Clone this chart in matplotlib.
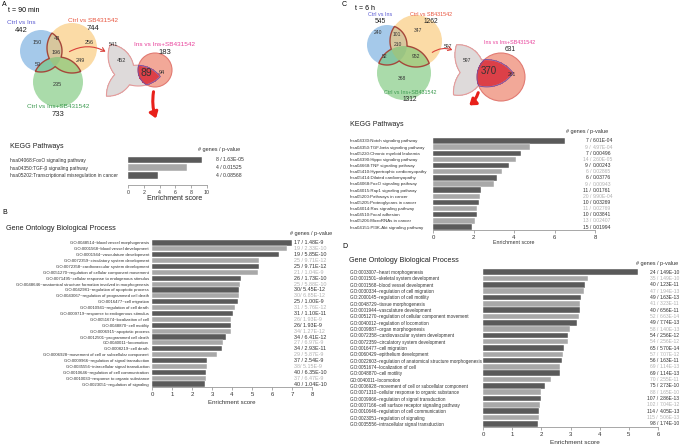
import numpy as np
import matplotlib
matplotlib.use('Agg')
import matplotlib.pyplot as plt
from matplotlib.patches import Circle, FancyArrowPatch
from matplotlib import transforms

plt.rcParams['font.family'] = ['Liberation Sans', 'DejaVu Sans']

W, H = 685, 447
DARK = '#5a5a5a'
LIGHT = '#a8a8a8'
TXT_DARK = '#333333'
TXT_LIGHT = '#b0b0b0'
C_BLUE, C_ORANGE, C_GREEN = '#6aa6dc', '#f9c46b', '#72c472'
T_BLUE, T_RED, T_GREEN, T_PINK = '#5a5ad2', '#e8553f', '#3c9a50', '#e8409a'

# ---------------- data ----------------
a_kegg_terms = ['hsa04068:FoxO signaling pathway',
                'hsa04350:TGF-\u03b2 signaling pathway',
                'hsa05202:Transcriptional misregulation in cancer']
a_kegg_scores = [9.37, 7.45, 3.75]
a_kegg_info = ['8 / 1.63E-05', '4 / 0.01525', '4 / 0.08568']

b_go_terms = ['GO:0048514~blood vessel morphogenesis',
              'GO:0001568~blood vessel development',
              'GO:0001944~vasculature development',
              'GO:0072359~circulatory system development',
              'GO:0072358~cardiovascular system development',
              'GO:0051270~regulation of cellular component movement',
              'GO:0071495~cellular response to endogenous stimulus',
              'GO:0048646~anatomical structure formation involved in morphogenesis',
              'GO:0042981~regulation of apoptotic process',
              'GO:0043067~regulation of programmed cell death',
              'GO:0016477~cell migration',
              'GO:0010941~regulation of cell death',
              'GO:0009719~response to endogenous stimulus',
              'GO:0051674~localization of cell',
              'GO:0048870~cell motility',
              'GO:0006915~apoptotic process',
              'GO:0012501~programmed cell death',
              'GO:0040011~locomotion',
              'GO:0008219~cell death',
              'GO:0006928~movement of cell or subcellular component',
              'GO:0009966~regulation of signal transduction',
              'GO:0035556~intracellular signal transduction',
              'GO:0010646~regulation of cell communication',
              'GO:0010033~response to organic substance',
              'GO:0023051~regulation of signaling']
b_go_scores = [7.0, 6.73, 6.37, 5.37, 5.37, 5.3, 4.45, 4.4, 4.35, 4.35, 4.28, 4.17,
               4.07, 3.95, 3.95, 3.93, 3.72, 3.57, 3.48, 3.27, 2.75, 2.75, 2.68, 2.68, 2.65]
b_go_info = ['17 / 1.48E-9', '19 / 2.33E-10', '19 / 5.85E-10', '25 / 9.71E-12',
             '25 / 9.71E-12', '21 / 1.04E-9', '26 / 1.73E-10', '25 / 5.88E-10',
             '30/ 5.45E-12', '30/ 6.85E-12', '25 / 1.00E-9', '31 / 5.76E-12',
             '31 / 1.10E-11', '26/ 1.93E-9', '26/ 1.93E-9', '34/ 1.27E-12',
             '34 / 6.41E-12', '27 / 6.97E-9', '34 / 2.93E-11', '29 / 5.87E-9',
             '37 / 2.54E-9', '38/ 5.15E-9', '40 / 6.35E-10', '37 / 6.47E-9',
             '40 / 1.04E-10']

c_kegg_terms = ['hsa04330:Notch signaling pathway',
                'hsa04350:TGF-beta signaling pathway',
                'hsa05220:Chronic myeloid leukemia',
                'hsa04390:Hippo signaling pathway',
                'hsa04668:TNF signaling pathway',
                'hsa05410:Hypertrophic cardiomyopathy',
                'hsa05414:Dilated cardiomyopathy',
                'hsa04068:FoxO signaling pathway',
                'hsa04015:Rap1 signaling pathway',
                'hsa05200:Pathways in cancer',
                'hsa05205:Proteoglycans in cancer',
                'hsa04014:Ras signaling pathway',
                'hsa04510:Focal adhesion',
                'hsa05206:MicroRNAs in cancer',
                'hsa04151:PI3K-Akt signaling pathway']
c_kegg_scores = [6.5, 4.78, 4.33, 4.12, 3.75, 3.43, 3.18, 3.0, 2.35, 2.3, 2.25, 2.18,
                 2.18, 2.05, 1.95]
c_kegg_genes = ['7', '9', '7', '14', '9', '6', '6', '9', '11', '20', '10', '11', '10', '13', '15']
c_kegg_pvals = ['6.01E-04', '4.97E-04', '0.00496', '2.60E-05', '0.00243', '0.02865',
                '0.03776', '0.00943', '0.01761', '9.90E-04', '0.03269', '0.02769',
                '0.03841', '0.02407', '0.01994']

d_go_terms = ['GO:0003007~heart morphogenesis',
              'GO:0001501~skeletal system development',
              'GO:0001568~blood vessel development',
              'GO:0030334~regulation of cell migration',
              'GO:2000145~regulation of cell motility',
              'GO:0048729~tissue morphogenesis',
              'GO:0001944~vasculature development',
              'GO:0051270~regulation of cellular component movement',
              'GO:0040012~regulation of locomotion',
              'GO:0009887~organ morphogenesis',
              'GO:0072358~cardiovascular system development',
              'GO:0072359~circulatory system development',
              'GO:0016477~cell migration',
              'GO:0060429~epithelium development',
              'GO:0022603~regulation of anatomical structure morphogenesis',
              'GO:0051674~localization of cell',
              'GO:0048870~cell motility',
              'GO:0040011~locomotion',
              'GO:0006928~movement of cell or subcellular component',
              'GO:0071310~cellular response to organic substance',
              'GO:0009966~regulation of signal transduction',
              'GO:0007166~cell surface receptor signaling pathway',
              'GO:0010646~regulation of cell communication',
              'GO:0023051~regulation of signaling',
              'GO:0035556~intracellular signal transduction']
d_go_scores = [5.3, 3.6, 3.5, 3.46, 3.37, 3.34, 3.32, 3.28, 3.22, 2.98, 2.9, 2.9, 2.79,
               2.73, 2.7, 2.64, 2.63, 2.33, 2.13, 2.0, 1.99, 1.95, 1.92, 1.92, 1.88]
d_go_genes = ['24', '35', '40', '47', '49', '41', '40', '52', '49', '58', '54', '54', '65',
              '57', '56', '69', '69', '70', '75', '88', '107', '102', '114', '115', '98']
d_go_pvals = ['1.49E-10', '1.49E-10', '1.23E-11', '1.94E-13', '1.63E-13', '3.23E-11',
              '6.56E-11', '6.63E-14', '7.74E-13', '1.40E-13', '2.56E-12', '2.56E-12',
              '5.70E-14', '7.07E-12', '1.63E-11', '1.14E-13', '1.14E-13', '2.55E-11',
              '2.73E-10', '1.65E-10', '2.86E-13', '7.04E-12', '4.05E-13', '5.06E-13',
              '1.74E-10']

# venn counts
set_names = ['Ctrl vs Ins', 'Ctrl vs SB431542', 'Ctrl vs Ins+SB431542', 'Ins vs Ins+SB431542']
a_totals = ['442', '744', '733', '183']
a_regions = ['150', '43', '256', '196', '249', '53', '235']
a_big = ['541', '452', '89', '94']
c_totals = ['545', '1262', '1312', '631']
c_regions = ['240', '101', '347', '210', '952', '52', '368']
c_big = ['597', '597', '370', '261']

# ---------------- figure ----------------
fig = plt.figure(figsize=(W / 100, H / 100), dpi=100)
ov = fig.add_axes([0, 0, 1, 1])
ov.set_xlim(0, W)
ov.set_ylim(H, 0)
ov.axis('off')


def px_axes(x0, y0, x1, y1):
    return fig.add_axes([x0 / W, 1 - y1 / H, (x1 - x0) / W, (y1 - y0) / H])


def second_depth(X, Y, circles):
    d = np.stack([r - np.hypot(X - cx, Y - cy) for cx, cy, r in circles])
    d.sort(axis=0)
    return d[-2]


def venn(circles, region_xy, region_txt, rfs, box, sc, bc, bs, rot, grow, red,
         big_xy, big_txt, big_fs):
    for (cx, cy, r), col in zip(circles, [C_BLUE, C_ORANGE, C_GREEN]):
        ov.add_patch(Circle((cx, cy), r, fc=col, ec='none', alpha=0.6))
    xs = np.linspace(box[0], box[1], 500)
    ys = np.linspace(box[2], box[3], 500)
    X, Y = np.meshgrid(xs, ys)
    ov.contour(X, Y, second_depth(X, Y, circles), levels=[0], colors='#a5473a', linewidths=1.0)
    for (x, y), t in zip(region_xy, region_txt):
        ov.text(x, y, t, fontsize=rfs, ha='center', va='center', color='#333333')

    # enlarged (slightly rounded) copy of the overlap region, crossed with the 4th comparison
    bx = np.linspace(bc[0] - 50, bc[0] + 55, 600)
    by = np.linspace(bc[1] - 40, bc[1] + 45, 500)
    BX, BY = np.meshgrid(bx, by)
    th = np.deg2rad(-rot)
    ux, uy = (BX - bc[0]) / bs, (BY - bc[1]) / bs
    SX = sc[0] + np.cos(th) * ux - np.sin(th) * uy
    SY = sc[1] + np.sin(th) * ux + np.cos(th) * uy
    DB = second_depth(SX, SY, circles) + grow
    rx, ry, rr = red
    DR = rr - np.hypot(BX - rx, BY - ry)
    DI = np.minimum(DB, DR)
    ov.contourf(BX, BY, DB, levels=[0, 1e3], colors=['#dedada'])
    ov.add_patch(Circle((rx, ry), rr, fc='#f2a898', ec='#e27a72', lw=0.8))
    ov.contourf(BX, BY, DI, levels=[0, 1e3], colors=['#dc4048'])
    ov.contour(BX, BY, DB, levels=[0], colors='#e59a9a', linewidths=0.8)
    ov.contour(BX, BY, DI, levels=[0], colors='#6a4fa8', linewidths=0.6)
    for (x, y), t, s in zip(big_xy, big_txt, big_fs):
        ov.text(x, y, t, fontsize=s, ha='center', va='center', color='#333333')


def set_labels(xy, names, totals, colors, nfs, tfs, gap):
    for (x, y), n, t, c in zip(xy, names, totals, colors):
        ov.text(x, y, n, fontsize=nfs, ha='center', va='center', color=c)
        ov.text(x, y + gap, t, fontsize=tfs, ha='center', va='center', color='#222222')


def bar_panel(box, terms, scores, xmax, xstep, label_x, label_ha, lab_fs, ybot=None):
    x0, y0, x1, y1 = box
    n = len(terms)
    ax = px_axes(x0, y0, x1, y1)
    yy = np.arange(n)
    cols = [DARK if i % 2 == 0 else LIGHT for i in range(n)]
    ax.barh(yy, scores, height=0.88, color=cols, edgecolor='white', linewidth=0.3)
    ax.set_xlim(0, xmax)
    ax.set_ylim(n - 0.5 if ybot is None else ybot, -0.5)
    ax.set_xticks(np.arange(0, xmax + 0.01, xstep))
    ax.tick_params(axis='x', labelsize=4.3, length=2, width=0.5, color='#888888',
                   labelcolor='#333333', pad=1.5)
    ax.set_yticks(yy, terms, fontsize=lab_fs, color='#333333')
    ax.tick_params(axis='y', length=0, pad=(x0 - label_x) * 0.72)
    for lb in ax.get_yticklabels():
        lb.set_ha(label_ha)
    for s in ['top', 'right', 'left']:
        ax.spines[s].set_visible(False)
    ax.spines['bottom'].set_color('#999999')
    ax.spines['bottom'].set_linewidth(0.6)
    ax.set_facecolor('none')
    return ax


def blend(ax):
    return transforms.blended_transform_factory(fig.transFigure, ax.transData)


# ---------------- panel A ----------------
ov.text(2, 5, 'A', fontsize=5, ha='left', va='center')
ov.text(8, 10, 't = 90 min', fontsize=5, ha='left', va='center')
venn([(41, 51, 21), (72, 48, 25), (58, 82, 25)],
     [(37, 43), (57, 38), (89, 43), (56, 53), (80, 61), (38, 64), (57, 84)], a_regions, 4.0,
     (10, 110, 20, 112), (58, 53), (126, 66), 1.08, -20, 3.0, (155, 70, 17),
     [(113, 45), (121, 61), (146, 73), (162, 73)], a_big, [4.0, 4.0, 7.5, 4.0])
set_labels([(21, 22), (93, 21), (58, 106), (165, 44)], set_names, a_totals,
           [T_BLUE, T_RED, T_GREEN, T_PINK], 4.6, 5.5, 8)
ov.add_patch(FancyArrowPatch((67, 53), (108, 53), connectionstyle='arc3,rad=-0.3',
                             arrowstyle='->,head_length=2.5,head_width=1.5', color='#d9403a', lw=0.8))
ov.add_patch(FancyArrowPatch((154, 89), (157, 121), connectionstyle='arc3,rad=0.15',
                             arrowstyle='-|>,head_length=3.5,head_width=2.5', color='#e8201a', lw=2.2))

ov.text(10, 147, 'KEGG Pathways', fontsize=5.1, ha='left', va='center', color='#222222')
ax_a = bar_panel((128, 156.2, 207, 185), a_kegg_terms, a_kegg_scores, 10, 2, 10, 'left', 3.5, ybot=3.29)
ax_a.tick_params(axis='x', labelsize=3.8)
ov.text(198, 149, '# genes / p-value', fontsize=4.0, ha='left', va='center', color='#333333')
for i, t in enumerate(a_kegg_info):
    ax_a.text(216 / W, i, t, fontsize=3.7, ha='left', va='center', color=TXT_DARK,
              transform=blend(ax_a))
ov.text(175, 198, 'Enrichment score', fontsize=5.0, ha='center', va='center', color='#222222')

# ---------------- panel B ----------------
ov.text(2, 212, 'B', fontsize=5, ha='left', va='center')
ov.text(6, 228, 'Gene Ontology Biological Process', fontsize=5.2, ha='left', va='center',
        color='#222222')
ax_b = bar_panel((152, 240, 312, 387), b_go_terms, b_go_scores, 8, 1, 149, 'right', 3.1)
ov.text(290, 234, '# genes / p-value', fontsize=4.0, ha='left', va='center', color='#333333')
for i, t in enumerate(b_go_info):
    ax_b.text(294 / W, i, t, fontsize=3.9, ha='left', va='center',
              color=TXT_DARK if i % 2 == 0 else TXT_LIGHT, transform=blend(ax_b))
ov.text(232, 402, 'Enrichment score', fontsize=4.4, ha='center', va='center', color='#333333')

# ---------------- panel C ----------------
ov.text(342, 4, 'C', fontsize=5, ha='left', va='center')
ov.text(355, 8, 't = 6 h', fontsize=5, ha='left', va='center')
venn([(387, 45, 20), (416, 41, 26), (404, 73, 27)],
     [(378, 33), (397, 34), (418, 31), (398, 45), (416, 56), (385, 57), (402, 78)], c_regions, 3.6,
     (355, 455, 10, 105), (404.5, 46.5), (477, 65), 1.1, -20, 3.0, (501, 77, 24),
     [(448, 47), (467, 60), (489, 71), (512, 74)], c_big, [3.6, 3.6, 7.0, 3.6])
set_labels([(380, 15), (431, 15), (410, 93), (510, 43)], set_names, c_totals,
           [T_BLUE, T_RED, T_GREEN, T_PINK], 3.9, 4.8, 6.5)
ov.add_patch(FancyArrowPatch((430, 54), (455, 51), connectionstyle='arc3,rad=-0.3',
                             arrowstyle='->,head_length=2.5,head_width=1.5', color='#d9403a', lw=0.8))
ov.add_patch(FancyArrowPatch((479, 90), (467, 107), connectionstyle='arc3,rad=-0.2',
                             arrowstyle='-|>,head_length=3.5,head_width=2.5', color='#e8201a', lw=2.2))

ov.text(350, 124, 'KEGG Pathways', fontsize=5.1, ha='left', va='center', color='#222222')
ax_c = bar_panel((433, 137.9, 595, 230.1), c_kegg_terms, c_kegg_scores, 8, 2, 350, 'left', 3.2)
ov.text(566, 132, '# genes / p-value', fontsize=4.0, ha='left', va='center', color='#333333')
for i, (g, p) in enumerate(zip(c_kegg_genes, c_kegg_pvals)):
    col = TXT_DARK if i % 2 == 0 else TXT_LIGHT
    ax_c.text(591 / W, i, g + ' /', fontsize=3.6, ha='right', va='center', color=col,
              transform=blend(ax_c))
    ax_c.text(593 / W, i, p, fontsize=3.6, ha='left', va='center', color=col,
              transform=blend(ax_c))
ov.text(514, 242, 'Enrichment score', fontsize=3.8, ha='center', va='center', color='#333333')

# ---------------- panel D ----------------
ov.text(342, 246, 'D', fontsize=5, ha='left', va='center')
ov.text(349, 261, 'Gene Ontology Biological Process', fontsize=5.2, ha='left', va='center',
        color='#222222')
ax_d = bar_panel((483, 269, 658, 427), d_go_terms, d_go_scores, 6, 1, 350, 'left', 3.3)
ov.text(636, 264, '# genes / p-value', fontsize=4.0, ha='left', va='center', color='#333333')
for i, (g, p) in enumerate(zip(d_go_genes, d_go_pvals)):
    col = TXT_DARK if i % 2 == 0 else TXT_LIGHT
    ax_d.text(658 / W, i, g + ' /', fontsize=3.6, ha='right', va='center', color=col,
              transform=blend(ax_d))
    ax_d.text(660 / W, i, p, fontsize=3.6, ha='left', va='center', color=col,
              transform=blend(ax_d))
ov.text(575, 443, 'Enrichment score', fontsize=4.6, ha='center', va='center', color='#333333')

fig.savefig('out.png', dpi=100, facecolor='white')
